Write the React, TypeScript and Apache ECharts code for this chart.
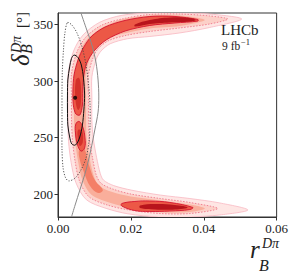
import React, { useEffect, useRef } from "react";
import * as echarts from "echarts";

// Axis ticks
const xTicks = [0, 0.02, 0.04, 0.06];
const yTicks = [200, 250, 300, 350];

// Contour regions, points are [r_B, delta_B]
const outerBand = [
  [0.0504, 354.7], [0.0416, 359.1], [0.0334, 360], [0.0252, 360], [0.0176, 358],
  [0.0115, 351.9], [0.0069, 340.7], [0.0043, 326.6], [0.0028, 306.8], [0.0027, 285],
  [0.0027, 266.1], [0.0029, 246.5], [0.0036, 228.2], [0.0049, 210.4], [0.0078, 195.2],
  [0.0132, 187.6], [0.0192, 182.8], [0.0276, 180], [0.0362, 180], [0.0444, 181.8],
  [0.0521, 186.2], [0.0444, 192.4], [0.0362, 196.3], [0.0282, 199.3], [0.0203, 203.6],
  [0.0153, 207.7], [0.0125, 212.5], [0.0116, 218.4], [0.0106, 232.4], [0.0097, 249.3],
  [0.0093, 265.1], [0.0093, 285], [0.0093, 303.8], [0.0105, 319.2], [0.0118, 326.4],
  [0.0143, 332.8], [0.0191, 337.3], [0.0252, 339.3], [0.0334, 342.4], [0.0416, 347.2],
];

const dottedBand = [
  [0.0466, 354.7], [0.0416, 357.4], [0.0334, 359.1], [0.0252, 358.7], [0.0179, 355],
  [0.0119, 349.1], [0.0076, 338.6], [0.0052, 325.6], [0.0037, 306.4], [0.0037, 285],
  [0.0037, 265.9], [0.004, 247], [0.0047, 228.9], [0.0059, 211.7], [0.0085, 197.8],
  [0.0135, 190.6], [0.0193, 186.3], [0.0278, 183.1], [0.0362, 183.1], [0.0438, 187.5],
  [0.0362, 192.8], [0.0281, 196.3], [0.0201, 200.2], [0.015, 204.7], [0.0118, 209.8],
  [0.0105, 217.1], [0.0095, 231.7], [0.0086, 248.9], [0.0084, 265.2], [0.0084, 285],
  [0.0083, 304.2], [0.0096, 320.3], [0.011, 328.5], [0.0139, 335.6], [0.0188, 340.3],
  [0.0252, 343.7], [0.0334, 346.8], [0.0416, 350.3],
];

const midBand = [
  [0.0403, 353.8], [0.0334, 357.8], [0.0252, 357.8], [0.018, 354.7], [0.0122, 347.1],
  [0.0081, 337.1], [0.0059, 324.8], [0.0044, 306], [0.0044, 285], [0.0044, 265.6],
  [0.0047, 247.3], [0.0055, 229.3], [0.0067, 212.6], [0.0091, 199.9], [0.0138, 193.1],
  [0.0195, 188.5], [0.0278, 184.4], [0.0362, 184.4], [0.0403, 187.5], [0.0362, 191],
  [0.0281, 194.6], [0.02, 198], [0.0147, 202.2], [0.0112, 207.8], [0.0098, 216.3],
  [0.0087, 231.3], [0.0079, 248.6], [0.0077, 265.6], [0.0077, 285], [0.0076, 304.6],
  [0.0089, 321.1], [0.0105, 330], [0.0136, 337.6], [0.0187, 342.4], [0.0252, 346.3],
  [0.0334, 348.5],
];

const elbowCore = [
  [0.0058, 239.1], [0.0071, 240.9], [0.0085, 225.9], [0.0101, 212.6], [0.0123, 203.8],
  [0.011, 201.2], [0.0088, 207.4], [0.0071, 219.7], [0.006, 230.3],
];

const coreTop = [
  [0.0384, 354.3], [0.0321, 356.9], [0.0252, 356.9], [0.0184, 353.4], [0.0129, 347.6],
  [0.0093, 339.7], [0.0071, 330], [0.0055, 318.5], [0.0044, 305.3], [0.0041, 292.1],
  [0.0042, 278.8], [0.0049, 270.9], [0.006, 270], [0.0067, 278.8], [0.0068, 292.1],
  [0.0071, 305.3], [0.0079, 315.9], [0.0099, 326.5], [0.0132, 336.2], [0.0184, 344.1],
  [0.0252, 349], [0.0321, 351.2], [0.0384, 352.9],
];

const coreMid = [
  [0.0049, 262.1], [0.0058, 264.3], [0.0068, 259.4], [0.0074, 249.7], [0.0073, 240.9],
  [0.0063, 238.2], [0.0053, 244.4], [0.0048, 254.1],
];

const coreBottom = [
  [0.0175, 191.9], [0.0211, 193.7], [0.0252, 194.1], [0.0307, 192.8], [0.037, 188.4],
  [0.0362, 186.6], [0.0307, 185.3], [0.0252, 184.9], [0.0211, 185.7], [0.0175, 189.7],
];

const darkTop = [
  [0.0211, 349.9], [0.0252, 353.8], [0.0307, 356], [0.0362, 355.6], [0.0378, 353.8],
  [0.0362, 352.5], [0.0307, 351.6], [0.0252, 350.3], [0.0211, 348.1],
];

const darkBottom = [
  [0.0225, 190.1], [0.0266, 191.5], [0.0321, 190.6], [0.0356, 188.4], [0.0321, 186.6],
  [0.0266, 186.6], [0.0225, 187.9],
];

const darkVertUpper = [
  [0.0049, 300.9], [0.0058, 302.6], [0.0063, 293.8], [0.0062, 278.8], [0.0055, 274.4],
  [0.0048, 283.2],
];

const darkVertLower = [
  [0.0055, 256.8], [0.0066, 255.9], [0.0068, 246.2], [0.006, 242.6], [0.0055, 248.8],
];

const solidContour = [
  [0.0044, 322.9], [0.0055, 320.7], [0.0064, 314.1], [0.007, 302.6], [0.0073, 287.6],
  [0.0071, 274.4], [0.0067, 261.2], [0.0059, 249.7], [0.0048, 243.5], [0.0038, 244.4],
  [0.0032, 250.6], [0.0027, 261.2], [0.0026, 274.4], [0.0026, 287.6], [0.0027, 300.9],
  [0.0032, 312.4], [0.0037, 319.9],
];

const dottedContour = [
  [0.0026, 351.6], [0.0038, 349.4], [0.0052, 342.4], [0.0066, 330], [0.0077, 314.1],
  [0.0084, 296.5], [0.0088, 278.8], [0.0088, 261.2], [0.0085, 246.2], [0.0077, 232.1],
  [0.0063, 221.5], [0.0047, 214.4], [0.003, 211.8], [0.0021, 214.4], [0.0014, 223.2],
  [0.0011, 239.1], [0.0011, 256.8], [0.0011, 274.4], [0.0011, 292.1], [0.0012, 309.7],
  [0.0015, 327.4], [0.0019, 342.4],
];

const grayCurve = [
  [0.0063, 360], [0.0079, 345], [0.0093, 331.8], [0.0104, 316.8], [0.011, 300.9],
  [0.0112, 285.9], [0.011, 272.6], [0.0101, 256.8], [0.009, 239.1], [0.0077, 221.5],
  [0.006, 203.8], [0.0047, 190.6], [0.0037, 180],
];

const bestFit = [[0.0047, 285.3]];

const serif = '"Liberation Serif", "DejaVu Serif", serif';

function shapeSeries(pts: number[][], style: any, closed = true, smooth = 0.3, z = 2) {
  return {
    type: "custom",
    coordinateSystem: "cartesian2d",
    clip: true,
    silent: true,
    z,
    data: pts,
    encode: { x: 0, y: 1 },
    renderItem: (params: any, api: any) => {
      if (params.dataIndex !== 0) return null;
      const points = pts.map((p) => api.coord(p));
      return {
        type: closed ? "polygon" : "polyline",
        shape: { points, smooth },
        style: closed ? style : { fill: "none", ...style },
      };
    },
  };
}

export default function App() {
  const ref = useRef<HTMLDivElement>(null);
  useEffect(() => {
    if (!ref.current) return;
    const chart = echarts.init(ref.current, null, { renderer: "svg" });
    const txt = "#222";
    const tickFont = "Liberation Serif";
    chart.setOption({
      animation: false,
      backgroundColor: "#fff",
      grid: { left: 58, right: 14, top: 13, bottom: 55, show: true, borderColor: "#333", borderWidth: 1, backgroundColor: "transparent" },
      xAxis: {
        type: "value",
        min: 0,
        max: 0.06,
        axisLine: { show: true, lineStyle: { color: "#333", width: 1 } },
        axisTick: { show: true, inside: false, length: 3.5, customValues: xTicks, lineStyle: { color: "#333" } },
        axisLabel: {
          customValues: xTicks,
          formatter: (v: number) => v.toFixed(2),
          fontFamily: tickFont,
          fontSize: 13,
          color: txt,
          margin: 5,
        },
        splitLine: { show: false },
      },
      yAxis: {
        type: "value",
        min: 180,
        max: 360,
        axisLine: { show: true, lineStyle: { color: "#333", width: 1 } },
        axisTick: { show: true, inside: false, length: 3.5, customValues: yTicks, lineStyle: { color: "#333" } },
        axisLabel: {
          customValues: yTicks,
          formatter: (v: number) => String(v),
          fontFamily: tickFont,
          fontSize: 13,
          color: txt,
          margin: 5,
        },
        splitLine: { show: false },
      },
      series: [
        shapeSeries(outerBand, { fill: "#fee6e4", stroke: "#f9b7c1", lineWidth: 0.8 }, true, 0.3, 1),
        shapeSeries(dottedBand, { fill: "#fcd0c8", stroke: "#ee6a80", lineWidth: 0.8, lineDash: [1.5, 1.5] }, true, 0.3, 2),
        shapeSeries(midBand, { fill: "#f9ae9b" }, true, 0.3, 3),
        shapeSeries(elbowCore, { fill: "#f47f67" }, true, 0.4, 4),
        shapeSeries(coreTop, { fill: "#ec5846", stroke: "#d81e35", lineWidth: 1 }, true, 0.3, 5),
        shapeSeries(coreMid, { fill: "#ec5846", stroke: "#d81e35", lineWidth: 1 }, true, 0.4, 5),
        shapeSeries(coreBottom, { fill: "#ec5846", stroke: "#d81e35", lineWidth: 1 }, true, 0.4, 5),
        shapeSeries(darkTop, { fill: "#b8141c" }, true, 0.4, 6),
        shapeSeries(darkBottom, { fill: "#b8141c" }, true, 0.4, 6),
        shapeSeries(darkVertUpper, { fill: "#d4302a" }, true, 0.4, 6),
        shapeSeries(darkVertLower, { fill: "#d4302a" }, true, 0.4, 6),
        shapeSeries(dottedContour, { stroke: "#444", lineWidth: 0.9, lineDash: [1.2, 1.6], fill: "none" }, true, 0.3, 8),
        shapeSeries(solidContour, { stroke: "#111", lineWidth: 1, fill: "none" }, true, 0.3, 8),
        shapeSeries(grayCurve, { stroke: "#8a8a8a", lineWidth: 1 }, false, 0.3, 8),
        {
          type: "scatter",
          data: bestFit,
          symbolSize: 4,
          itemStyle: { color: "#000" },
          z: 9,
          silent: true,
        },
      ],
      graphic: [
        { type: "text", x: 221, y: 22, silent: true, style: { text: "LHCb", font: `15px ${serif}`, fill: txt, verticalAlign: "top" } },
        { type: "text", x: 222, y: 40, silent: true, style: { text: "9 fb", font: `11.5px ${serif}`, fill: txt, verticalAlign: "top" } },
        { type: "text", x: 241, y: 37, silent: true, style: { text: "−1", font: `8.5px ${serif}`, fill: txt, verticalAlign: "top" } },
        { type: "text", x: 250, y: 249, silent: true, style: { text: "r", font: `italic 25px ${serif}`, fill: txt, verticalAlign: "middle" } },
        { type: "text", x: 259, y: 265, silent: true, style: { text: "B", font: `italic 16px ${serif}`, fill: txt, verticalAlign: "middle" } },
        { type: "text", x: 262, y: 243.5, silent: true, style: { text: "Dπ", font: `italic 14px ${serif}`, fill: txt, verticalAlign: "middle" } },
        {
          type: "group",
          x: 28,
          y: 66,
          rotation: Math.PI / 2,
          silent: true,
          children: [
            { type: "text", x: 0, y: -8, style: { text: "δ", font: `italic 25px ${serif}`, fill: txt, verticalAlign: "middle" } },
            { type: "text", x: 12, y: -2, style: { text: "B", font: `italic 16px ${serif}`, fill: txt, verticalAlign: "middle" } },
            { type: "text", x: 13, y: -12, style: { text: "Dπ", font: `italic 14px ${serif}`, fill: txt, verticalAlign: "middle" } },
            { type: "text", x: 38, y: -6, style: { text: "[°]", font: `15px ${serif}`, fill: txt, verticalAlign: "middle" } },
          ],
        },
      ],
    });
    return () => chart.dispose();
  }, []);
  return <div ref={ref} style={{ position: "absolute", left: 0, top: 0, width: 291, height: 272 }} />;
}
